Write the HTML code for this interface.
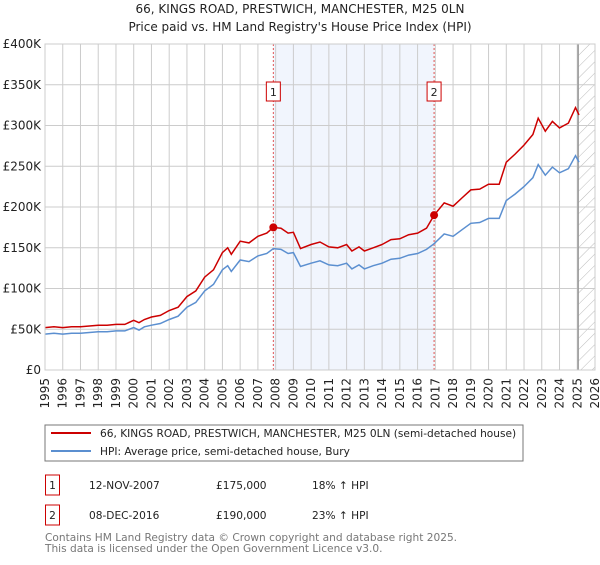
<!DOCTYPE html>
<html><head><meta charset="utf-8"><style>
body{margin:0;background:#fff;font-family:"Liberation Sans","DejaVu Sans",sans-serif;}
svg text{font-family:"DejaVu Sans","Liberation Sans",sans-serif;}
</style></head><body>
<svg id="c" width="600" height="560" xmlns="http://www.w3.org/2000/svg">
<defs><pattern id="hatch" width="8" height="8" patternUnits="userSpaceOnUse" patternTransform="rotate(45)"><line x1="0" y1="0" x2="0" y2="8" stroke="#bbb" stroke-width="1"/></pattern></defs>
<text x="300" y="13" text-anchor="middle" font-size="12" fill="#222">66, KINGS ROAD, PRESTWICH, MANCHESTER, M25 0LN</text>
<text x="300" y="31" text-anchor="middle" font-size="12" fill="#222">Price paid vs. HM Land Registry's House Price Index (HPI)</text>
<g id="plot"></g>
<g>
<rect x="45" y="425" width="478" height="36" fill="#fff" stroke="#777"/>
<line x1="51" y1="433" x2="91" y2="433" stroke="#cc0000" stroke-width="2"/>
<text x="100" y="437" font-size="10.6" fill="#222">66, KINGS ROAD, PRESTWICH, MANCHESTER, M25 0LN (semi-detached house)</text>
<line x1="51" y1="451" x2="91" y2="451" stroke="#5b8fd0" stroke-width="2"/>
<text x="100" y="455" font-size="10.6" fill="#222">HPI: Average price, semi-detached house, Bury</text>
</g>
<g font-size="10.6" fill="#222">
<rect x="45.5" y="475" width="14" height="20" fill="none" stroke="#cc0000"/>
<text x="52.5" y="489" text-anchor="middle">1</text>
<text x="89" y="489">12-NOV-2007</text>
<text x="216" y="489">£175,000</text>
<text x="312" y="489">18% ↑ HPI</text>
<rect x="45.5" y="505" width="14" height="20" fill="none" stroke="#cc0000"/>
<text x="52.5" y="519" text-anchor="middle">2</text>
<text x="89" y="519">08-DEC-2016</text>
<text x="216" y="519">£190,000</text>
<text x="312" y="519">23% ↑ HPI</text>
</g>
<text x="45" y="541" font-size="10.6" fill="#777">Contains HM Land Registry data © Crown copyright and database right 2025.</text>
<text x="45" y="552" font-size="10.6" fill="#777">This data is licensed under the Open Government Licence v3.0.</text>
</svg>
<script>
const dates=[1995.0,1995.5,1996,1996.5,1997,1997.5,1998,1998.5,1999,1999.5,2000,2000.3,2000.6,2001,2001.5,2002,2002.5,2003,2003.5,2004,2004.5,2005,2005.3,2005.5,2006,2006.5,2007,2007.5,2007.87,2008.3,2008.7,2009,2009.4,2010,2010.5,2011,2011.5,2012,2012.3,2012.7,2013,2013.5,2014,2014.5,2015,2015.5,2016,2016.5,2016.93,2017.5,2018,2018.5,2019,2019.5,2020,2020.6,2021,2021.5,2022,2022.5,2022.8,2023.2,2023.6,2024,2024.5,2024.9,2025.1];
const hpi=[44,45,44,45,45,46,47,47,48,48,52,49,53,55,57,62,66,77,83,97,105,123,128,121,135,133,140,143,149,148,143,144,127,131,134,129,128,131,124,129,124,128,131,136,137,141,143,148,155,167,164,172,180,181,186,186,208,216,225,236,252,239,249,242,247,263,255];
const prop=[52,53,52,53,53,54,55,55,56,56,61,58,62,65,67,73,77,90,97,114,123,144,150,142,158,156,164,168,175,174,168,169,149,154,157,151,150,154,146,151,146,150,154,160,161,166,168,174,190,205,201,211,221,222,228,228,255,265,276,289,309,293,305,297,303,322,313];
const yTicks=[0,50,100,150,200,250,300,350,400];
const yLabels=["£0","£50K","£100K","£150K","£200K","£250K","£300K","£350K","£400K"];
const xYears=[1995,1996,1997,1998,1999,2000,2001,2002,2003,2004,2005,2006,2007,2008,2009,2010,2011,2012,2013,2014,2015,2016,2017,2018,2019,2020,2021,2022,2023,2024,2025,2026];
const saleDates=[2007.87,2016.93];
const salePrices=[175,190];
const saleLabels=["1","2"];
const dataEnd=2025.05;

const L=45,R=595,T=44,B=370;
const X=y=>L+(y-1995)/(2026-1995)*(R-L);
const Y=v=>B-v/400*(B-T);
const NS="http://www.w3.org/2000/svg";
const g=document.getElementById('plot');
function mk(tag,attrs,parent){const e=document.createElementNS(NS,tag);for(const k in attrs)e.setAttribute(k,attrs[k]);(parent||g).appendChild(e);return e;}

let sh=mk('rect',{x:X(saleDates[0]),y:T,width:X(saleDates[1])-X(saleDates[0]),height:B-T,fill:'#eef3fd',opacity:0.8});


let ht=mk('rect',{x:X(dataEnd),y:T,width:R-X(dataEnd),height:B-T,fill:'url(#hatch)'});



xYears.forEach(yr=>{
  let l=mk('line',{x1:X(yr),x2:X(yr),y1:T,y2:B,stroke:'#ccc','stroke-width':1});
  
  
  let t=mk('text',{x:0,y:0,'font-size':12,fill:'#222','text-anchor':'end',transform:`translate(${X(yr)+4},${B+8}) rotate(-90)`});
  t.textContent=yr;
  
  
});
yTicks.forEach((v,i)=>{
  let l=mk('line',{x1:L,x2:R,y1:Y(v),y2:Y(v),stroke:'#ccc','stroke-width':1});
  
  
  let t=mk('text',{x:L-4,y:Y(v)+4,'font-size':12,fill:'#222','text-anchor':'end'});
  t.textContent=yLabels[i];
  
  
});
let el=mk('line',{x1:X(dataEnd),x2:X(dataEnd),y1:T,y2:B,stroke:'#999','stroke-width':1.5});



saleDates.forEach((d,i)=>{
  let l=mk('line',{x1:X(d),x2:X(d),y1:T,y2:B,stroke:'#e05555','stroke-width':1,'stroke-dasharray':'2,2'});
  
  
  let bx=mk('rect',{x:X(d)-7,y:82,width:14,height:19,fill:'#fff',stroke:'#cc0000'});
  
  
  let t=mk('text',{x:X(d),y:96,'font-size':11,fill:'#222','text-anchor':'middle'});
  t.textContent=saleLabels[i];
  
  
});

function path(vals){return vals.map((v,i)=>(i?'L':'M')+X(dates[i]).toFixed(1)+','+Y(v).toFixed(1)).join('');}
let hp=mk('path',{d:path(hpi),fill:'none',stroke:'#5b8fd0','stroke-width':1.5});


let pp=mk('path',{d:path(prop),fill:'none',stroke:'#cc0000','stroke-width':1.5});


saleDates.forEach((d,i)=>{
  let c=mk('circle',{cx:X(d),cy:Y(salePrices[i]),r:4,fill:'#cc0000'});
  
  
});
let fr=mk('rect',{x:L,y:T,width:R-L,height:B-T,fill:'none',stroke:'#ccc'});


</script>
</body></html>
